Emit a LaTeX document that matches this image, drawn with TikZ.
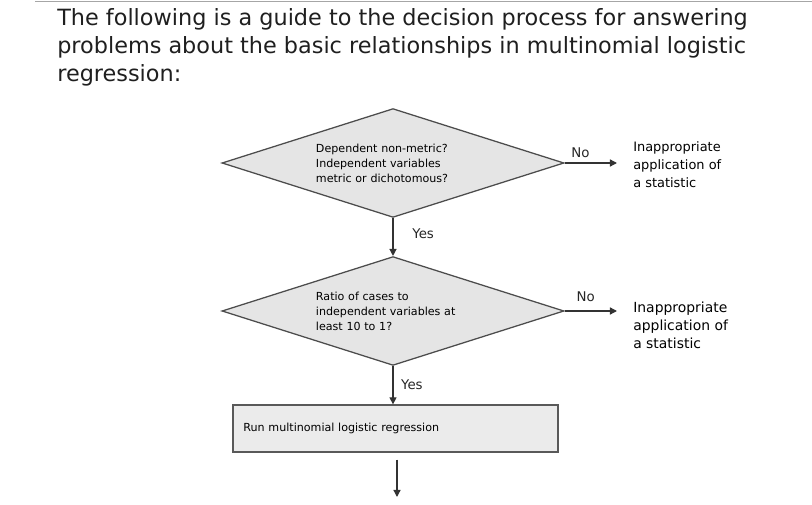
\documentclass[tikz,border=0pt]{standalone}
\usepackage{fontspec}
\setmainfont{DejaVu Sans}
\usetikzlibrary{positioning,shapes.geometric,arrows.meta}

\begin{document}
\begin{tikzpicture}[
  x=0.025cm, y=-0.025cm,
  decision/.style={diamond, aspect=3.14, draw=black!70, fill=black!10, line width=0.9pt,
    minimum width=8.55cm, minimum height=2.72cm, inner sep=0pt, text width=3.85cm,
    font=\fontsize{7.9}{10.7}\selectfont, align=left},
  runbox/.style={rectangle, draw=black!65, fill=black!8, line width=0.9pt,
    minimum width=8.125cm, minimum height=1.175cm, inner xsep=0.25cm,
    text width=7.6cm, align=left, font=\fontsize{7.9}{10}\selectfont},
  flow/.style={-{Triangle[length=5pt,width=5pt]}, line width=0.9pt, black!80},
  outcome/.style={align=left, inner ysep=0pt, inner xsep=0.4cm},
  answer/.style={font=\fontsize{9.5}{11}\selectfont, text=black!85},
]
  \useasboundingbox (0,0) rectangle (812,505);
  \draw[black!35] (35,1) -- (812,1);

  % heading
  \node[anchor=north west, inner sep=0pt, align=left,
        font=\fontsize{15.9}{19.9}\selectfont, text=black!88] (title) at (57,8)
    {The following is a guide to the decision process for answering\\
     problems about the basic relationships in multinomial logistic\\
     regression:};

  % first test
  \node[decision] (dep) at (393,163)
    {Dependent non-metric?\\Independent variables\\metric or dichotomous?};
  \node[outcome, anchor=west, font=\fontsize{9.2}{12.8}\selectfont] (stat1) at (617,165)
    {Inappropriate\\application of\\a statistic};
  \draw[flow] (dep.east) -- node[pos=0.3, above, answer] (no1) {No}
    (dep.east -| stat1.west);

  % second test
  \node[decision] (ratio) at (393,311)
    {Ratio of cases to\\independent variables at\\least 10 to 1?};
  \node[outcome, anchor=west, font=\fontsize{9.9}{12.8}\selectfont] (stat2) at (617,325)
    {Inappropriate\\application of\\a statistic};
  \draw[flow] (ratio.east) -- node[pos=0.4, above, yshift=3pt, answer] (no2) {No}
    (ratio.east -| stat2.west);
  \draw[flow] (dep.south) -- node[right, xshift=10pt, yshift=2pt, answer] (yes1) {Yes}
    (ratio.north);

  % run the analysis
  \node[runbox] (run) at (395.5,428.5) {Run multinomial logistic regression};
  \draw[flow] (ratio.south) -- node[right, xshift=2pt, answer] (yes2) {Yes}
    (ratio.south |- run.north);
  \coordinate (next) at (397,497);
  \draw[flow, shorten <=5pt] (run.south -| next) -- (next);
\end{tikzpicture}
\end{document}
